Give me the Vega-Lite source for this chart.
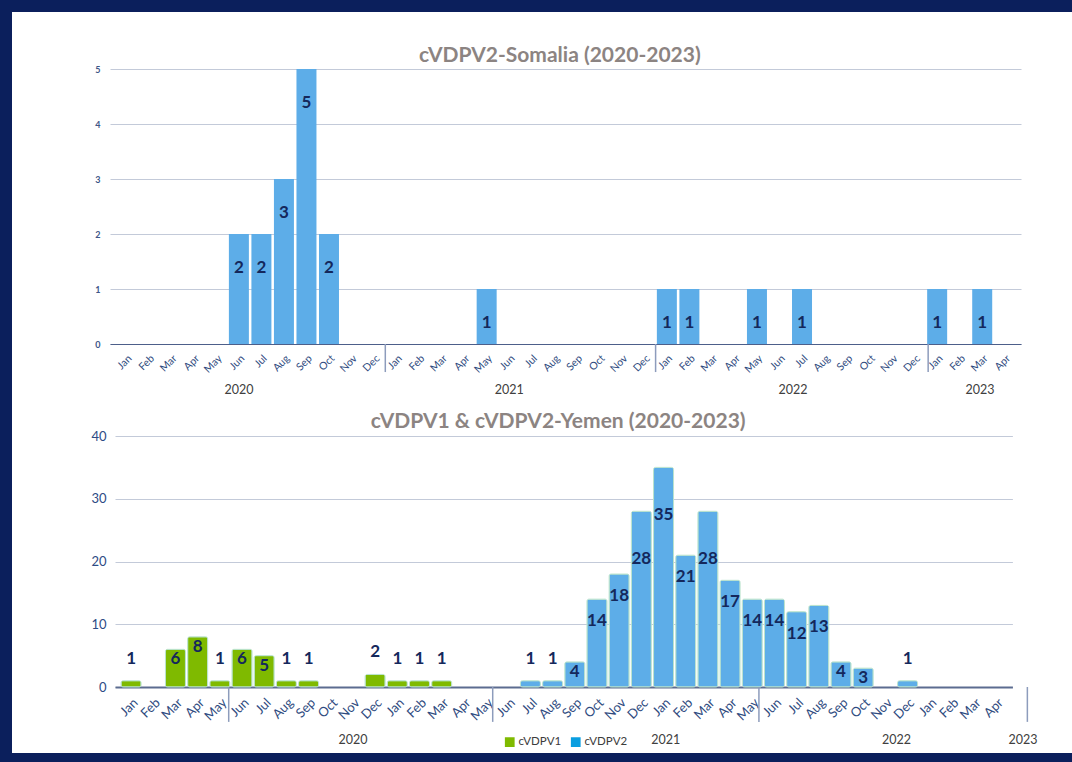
{
  "$schema": "https://vega.github.io/schema/vega-lite/v6.json",
  "width": 1072,
  "height": 762,
  "autosize": {"type": "fit", "contains": "padding"},
  "padding": {"left": 12, "top": 12, "right": 0, "bottom": 9},
  "background": "#0b1f5c",
  "config": {
    "view": {"fill": "white", "stroke": null},
    "font": "Lato",
    "axis": {"labelFont": "Lato", "titleFont": "Lato", "labelOverlap": false},
    "legend": {"labelFont": "Lato"}
  },
  "datasets": {
    "somalia": [
      {"idx": 5, "month": "Jun", "year": 2020, "cases": 2},
      {"idx": 6, "month": "Jul", "year": 2020, "cases": 2},
      {"idx": 7, "month": "Aug", "year": 2020, "cases": 3},
      {"idx": 8, "month": "Sep", "year": 2020, "cases": 5},
      {"idx": 9, "month": "Oct", "year": 2020, "cases": 2},
      {"idx": 16, "month": "May", "year": 2021, "cases": 1},
      {"idx": 24, "month": "Jan", "year": 2022, "cases": 1},
      {"idx": 25, "month": "Feb", "year": 2022, "cases": 1},
      {"idx": 28, "month": "May", "year": 2022, "cases": 1},
      {"idx": 30, "month": "Jul", "year": 2022, "cases": 1},
      {"idx": 36, "month": "Jan", "year": 2023, "cases": 1},
      {"idx": 38, "month": "Mar", "year": 2023, "cases": 1}
    ],
    "somaliaYears": [
      {"year": "2020", "at": 5.0},
      {"year": "2021", "at": 17.0},
      {"year": "2022", "at": 29.6},
      {"year": "2023", "at": 37.9}
    ],
    "somaliaSeps": [{"sep": 11.5}, {"sep": 23.5}, {"sep": 35.6}],
    "yemen": [
      {"idx": 0, "month": "Jan", "year": 2020, "type": "cVDPV1", "cases": 1},
      {"idx": 2, "month": "Mar", "year": 2020, "type": "cVDPV1", "cases": 6},
      {"idx": 3, "month": "Apr", "year": 2020, "type": "cVDPV1", "cases": 8},
      {"idx": 4, "month": "May", "year": 2020, "type": "cVDPV1", "cases": 1},
      {"idx": 5, "month": "Jun", "year": 2020, "type": "cVDPV1", "cases": 6},
      {"idx": 6, "month": "Jul", "year": 2020, "type": "cVDPV1", "cases": 5},
      {"idx": 7, "month": "Aug", "year": 2020, "type": "cVDPV1", "cases": 1},
      {"idx": 8, "month": "Sep", "year": 2020, "type": "cVDPV1", "cases": 1},
      {"idx": 11, "month": "Dec", "year": 2020, "type": "cVDPV1", "cases": 2},
      {"idx": 12, "month": "Jan", "year": 2021, "type": "cVDPV1", "cases": 1},
      {"idx": 13, "month": "Feb", "year": 2021, "type": "cVDPV1", "cases": 1},
      {"idx": 14, "month": "Mar", "year": 2021, "type": "cVDPV1", "cases": 1},
      {"idx": 18, "month": "Jul", "year": 2021, "type": "cVDPV2", "cases": 1},
      {"idx": 19, "month": "Aug", "year": 2021, "type": "cVDPV2", "cases": 1},
      {"idx": 20, "month": "Sep", "year": 2021, "type": "cVDPV2", "cases": 4},
      {"idx": 21, "month": "Oct", "year": 2021, "type": "cVDPV2", "cases": 14},
      {"idx": 22, "month": "Nov", "year": 2021, "type": "cVDPV2", "cases": 18},
      {"idx": 23, "month": "Dec", "year": 2021, "type": "cVDPV2", "cases": 28},
      {"idx": 24, "month": "Jan", "year": 2022, "type": "cVDPV2", "cases": 35},
      {"idx": 25, "month": "Feb", "year": 2022, "type": "cVDPV2", "cases": 21},
      {"idx": 26, "month": "Mar", "year": 2022, "type": "cVDPV2", "cases": 28},
      {"idx": 27, "month": "Apr", "year": 2022, "type": "cVDPV2", "cases": 17},
      {"idx": 28, "month": "May", "year": 2022, "type": "cVDPV2", "cases": 14},
      {"idx": 29, "month": "Jun", "year": 2022, "type": "cVDPV2", "cases": 14},
      {"idx": 30, "month": "Jul", "year": 2022, "type": "cVDPV2", "cases": 12},
      {"idx": 31, "month": "Aug", "year": 2022, "type": "cVDPV2", "cases": 13},
      {"idx": 32, "month": "Sep", "year": 2022, "type": "cVDPV2", "cases": 4},
      {"idx": 33, "month": "Oct", "year": 2022, "type": "cVDPV2", "cases": 3},
      {"idx": 35, "month": "Dec", "year": 2022, "type": "cVDPV2", "cases": 1}
    ],
    "yemenYears": [
      {"year": "2020", "at": 10.0},
      {"year": "2021", "at": 24.1},
      {"year": "2022", "at": 34.5},
      {"year": "2023", "at": 40.2}
    ],
    "yemenSeps": [{"sep": 4.4}, {"sep": 16.3}, {"sep": 28.3}, {"sep": 40.4}]
  },
  "layer": [
    {
      "layer": [
        {
          "data": {"name": "somalia"},
          "mark": {"type": "bar", "width": 20, "color": "#5dade8"},
          "encoding": {
            "x": {
              "field": "idx", "type": "quantitative", "title": null,
              "scale": {"domain": [-0.5, 39.5], "range": [98, 1009], "nice": false, "zero": false},
              "axis": {"orient": "bottom", "offset": -409, "title": null, "values": [0,1,2,3,4,5,6,7,8,9,10,11,12,13,14,15,16,17,18,19,20,21,22,23,24,25,26,27,28,29,30,31,32,33,34,35,36,37,38,39], "labelExpr": "['Jan','Feb','Mar','Apr','May','Jun','Jul','Aug','Sep','Oct','Nov','Dec'][datum.value % 12]", "labelAngle": -45, "labelFontSize": 10.5, "labelColor": "#2f4b80", "labelPadding": 9, "ticks": false, "grid": false, "domainColor": "#4d5f8a", "domainWidth": 1.2, "labelFlush": false, "labelOverlap": false}
            },
            "y": {
              "field": "cases", "type": "quantitative", "title": null,
              "scale": {"domain": [0, 5], "range": [332, 57], "nice": false},
              "axis": {"orient": "left", "offset": -98, "title": null, "values": [0,1,2,3,4,5], "format": "d", "domain": false, "ticks": false, "grid": true, "gridColor": "#c3cad9", "labelFontSize": 9, "labelFontWeight": "bold", "labelColor": "#3d5687", "labelPadding": 10}
            }
          }
        },
        {
          "data": {"name": "somalia"},
          "mark": {"type": "text", "dy": 34, "baseline": "middle", "fontSize": 17, "fontWeight": "bold", "color": "#14285c"},
          "encoding": {
            "x": {"field": "idx", "type": "quantitative", "title": null,
              "axis": {"orient": "bottom", "offset": -409, "title": null, "values": [0,1,2,3,4,5,6,7,8,9,10,11,12,13,14,15,16,17,18,19,20,21,22,23,24,25,26,27,28,29,30,31,32,33,34,35,36,37,38,39], "labelExpr": "['Jan','Feb','Mar','Apr','May','Jun','Jul','Aug','Sep','Oct','Nov','Dec'][datum.value % 12]", "labelAngle": -45, "labelFontSize": 10.5, "labelColor": "#2f4b80", "labelPadding": 9, "ticks": false, "grid": false, "domainColor": "#4d5f8a", "domainWidth": 1.2, "labelFlush": false, "labelOverlap": false}},
            "y": {"field": "cases", "type": "quantitative", "title": null,
              "axis": {"orient": "left", "offset": -98, "title": null, "values": [0,1,2,3,4,5], "format": "d", "domain": false, "ticks": false, "grid": true, "gridColor": "#c3cad9", "labelFontSize": 9, "labelFontWeight": "bold", "labelColor": "#3d5687", "labelPadding": 10}},
            "text": {"field": "cases", "type": "quantitative"}
          }
        },
        {
          "data": {"name": "somaliaSeps"},
          "mark": {"type": "rule", "color": "#8d9cbc", "strokeWidth": 1.5},
          "encoding": {
            "x": {"field": "sep", "type": "quantitative", "title": null,
              "axis": {"orient": "bottom", "offset": -409, "title": null, "values": [0,1,2,3,4,5,6,7,8,9,10,11,12,13,14,15,16,17,18,19,20,21,22,23,24,25,26,27,28,29,30,31,32,33,34,35,36,37,38,39], "labelExpr": "['Jan','Feb','Mar','Apr','May','Jun','Jul','Aug','Sep','Oct','Nov','Dec'][datum.value % 12]", "labelAngle": -45, "labelFontSize": 10.5, "labelColor": "#2f4b80", "labelPadding": 9, "ticks": false, "grid": false, "domainColor": "#4d5f8a", "domainWidth": 1.2, "labelFlush": false, "labelOverlap": false}},
            "y": {"datum": 0, "type": "quantitative", "title": null,
              "axis": {"orient": "left", "offset": -98, "title": null, "values": [0,1,2,3,4,5], "format": "d", "domain": false, "ticks": false, "grid": true, "gridColor": "#c3cad9", "labelFontSize": 9, "labelFontWeight": "bold", "labelColor": "#3d5687", "labelPadding": 10}},
            "y2": {"datum": -0.51}
          }
        },
        {
          "data": {"name": "somaliaYears"},
          "mark": {"type": "text", "baseline": "middle", "fontSize": 12.5, "color": "#404040"},
          "encoding": {
            "x": {"field": "at", "type": "quantitative", "title": null,
              "axis": {"orient": "bottom", "offset": -409, "title": null, "values": [0,1,2,3,4,5,6,7,8,9,10,11,12,13,14,15,16,17,18,19,20,21,22,23,24,25,26,27,28,29,30,31,32,33,34,35,36,37,38,39], "labelExpr": "['Jan','Feb','Mar','Apr','May','Jun','Jul','Aug','Sep','Oct','Nov','Dec'][datum.value % 12]", "labelAngle": -45, "labelFontSize": 10.5, "labelColor": "#2f4b80", "labelPadding": 9, "ticks": false, "grid": false, "domainColor": "#4d5f8a", "domainWidth": 1.2, "labelFlush": false, "labelOverlap": false}},
            "y": {"datum": -0.83, "type": "quantitative", "title": null,
              "axis": {"orient": "left", "offset": -98, "title": null, "values": [0,1,2,3,4,5], "format": "d", "domain": false, "ticks": false, "grid": true, "gridColor": "#c3cad9", "labelFontSize": 9, "labelFontWeight": "bold", "labelColor": "#3d5687", "labelPadding": 10}},
            "text": {"field": "year"}
          }
        },
        {
          "data": {"values": [{"title": "cVDPV2-Somalia (2020-2023)"}]},
          "mark": {"type": "text", "baseline": "middle", "fontSize": 21, "fontWeight": "bold", "color": "#8c8482"},
          "encoding": {
            "x": {"datum": 19.25, "type": "quantitative", "title": null,
              "axis": {"orient": "bottom", "offset": -409, "title": null, "values": [0,1,2,3,4,5,6,7,8,9,10,11,12,13,14,15,16,17,18,19,20,21,22,23,24,25,26,27,28,29,30,31,32,33,34,35,36,37,38,39], "labelExpr": "['Jan','Feb','Mar','Apr','May','Jun','Jul','Aug','Sep','Oct','Nov','Dec'][datum.value % 12]", "labelAngle": -45, "labelFontSize": 10.5, "labelColor": "#2f4b80", "labelPadding": 9, "ticks": false, "grid": false, "domainColor": "#4d5f8a", "domainWidth": 1.2, "labelFlush": false, "labelOverlap": false}},
            "y": {"datum": 5.24, "type": "quantitative", "title": null,
              "axis": {"orient": "left", "offset": -98, "title": null, "values": [0,1,2,3,4,5], "format": "d", "domain": false, "ticks": false, "grid": true, "gridColor": "#c3cad9", "labelFontSize": 9, "labelFontWeight": "bold", "labelColor": "#3d5687", "labelPadding": 10}},
            "text": {"field": "title"}
          }
        }
      ]
    },
    {
      "layer": [
        {
          "data": {"name": "yemen"},
          "mark": {"type": "bar", "width": 20, "stroke": "#b8e2cc", "strokeWidth": 1, "cornerRadius": 2},
          "encoding": {
            "x": {
              "field": "idx", "type": "quantitative", "title": null,
              "scale": {"domain": [-0.5, 39.5], "range": [103, 1000.4], "nice": false, "zero": false},
              "axis": {"orient": "bottom", "offset": -66, "title": null, "values": [0,1,2,3,4,5,6,7,8,9,10,11,12,13,14,15,16,17,18,19,20,21,22,23,24,25,26,27,28,29,30,31,32,33,34,35,36,37,38,39], "labelExpr": "['Jan','Feb','Mar','Apr','May','Jun','Jul','Aug','Sep','Oct','Nov','Dec'][datum.value % 12]", "labelAngle": -45, "labelFontSize": 13, "labelColor": "#2f4b80", "labelPadding": 9, "ticks": false, "grid": false, "domainColor": "#5c6c90", "domainWidth": 2, "labelFlush": false, "labelOverlap": false}
            },
            "y": {
              "field": "cases", "type": "quantitative", "title": null,
              "scale": {"domain": [0, 40], "range": [675, 424], "nice": false},
              "axis": {"orient": "left", "offset": -103, "title": null, "values": [0,10,20,30,40], "format": "d", "domain": false, "ticks": false, "grid": true, "gridColor": "#c3cad9", "labelFontSize": 13, "labelColor": "#2d4b85", "labelPadding": 9}
            },
            "color": {
              "field": "type", "type": "nominal",
              "scale": {"domain": ["cVDPV1", "cVDPV2"], "range": ["#7fba00", "#0a9ee0"]},
              "condition": {"test": "datum.type === 'cVDPV2'", "value": "#5dade8"},
              "legend": {"orient": "none", "legendX": 492, "legendY": 724, "direction": "horizontal", "title": null, "symbolType": "square", "symbolSize": 95, "symbolStrokeWidth": 0, "labelFontSize": 11.5, "labelColor": "#3c3c3c", "columnPadding": 8, "labelOffset": 3}
            }
          }
        },
        {
          "data": {"name": "yemen"},
          "transform": [{"filter": "datum.cases <= 2"}],
          "mark": {"type": "text", "dy": -22, "baseline": "middle", "fontSize": 17, "fontWeight": "bold", "color": "#14285c"},
          "encoding": {
            "x": {"field": "idx", "type": "quantitative", "title": null,
              "axis": {"orient": "bottom", "offset": -66, "title": null, "values": [0,1,2,3,4,5,6,7,8,9,10,11,12,13,14,15,16,17,18,19,20,21,22,23,24,25,26,27,28,29,30,31,32,33,34,35,36,37,38,39], "labelExpr": "['Jan','Feb','Mar','Apr','May','Jun','Jul','Aug','Sep','Oct','Nov','Dec'][datum.value % 12]", "labelAngle": -45, "labelFontSize": 13, "labelColor": "#2f4b80", "labelPadding": 9, "ticks": false, "grid": false, "domainColor": "#5c6c90", "domainWidth": 2, "labelFlush": false, "labelOverlap": false}},
            "y": {"field": "cases", "type": "quantitative", "title": null,
              "axis": {"orient": "left", "offset": -103, "title": null, "values": [0,10,20,30,40], "format": "d", "domain": false, "ticks": false, "grid": true, "gridColor": "#c3cad9", "labelFontSize": 13, "labelColor": "#2d4b85", "labelPadding": 9}},
            "text": {"field": "cases", "type": "quantitative"}
          }
        },
        {
          "data": {"name": "yemen"},
          "transform": [{"filter": "datum.cases >= 3 && datum.cases <= 9"}],
          "mark": {"type": "text", "dy": 10, "baseline": "middle", "fontSize": 17, "fontWeight": "bold", "color": "#14285c"},
          "encoding": {
            "x": {"field": "idx", "type": "quantitative", "title": null,
              "axis": {"orient": "bottom", "offset": -66, "title": null, "values": [0,1,2,3,4,5,6,7,8,9,10,11,12,13,14,15,16,17,18,19,20,21,22,23,24,25,26,27,28,29,30,31,32,33,34,35,36,37,38,39], "labelExpr": "['Jan','Feb','Mar','Apr','May','Jun','Jul','Aug','Sep','Oct','Nov','Dec'][datum.value % 12]", "labelAngle": -45, "labelFontSize": 13, "labelColor": "#2f4b80", "labelPadding": 9, "ticks": false, "grid": false, "domainColor": "#5c6c90", "domainWidth": 2, "labelFlush": false, "labelOverlap": false}},
            "y": {"field": "cases", "type": "quantitative", "title": null,
              "axis": {"orient": "left", "offset": -103, "title": null, "values": [0,10,20,30,40], "format": "d", "domain": false, "ticks": false, "grid": true, "gridColor": "#c3cad9", "labelFontSize": 13, "labelColor": "#2d4b85", "labelPadding": 9}},
            "text": {"field": "cases", "type": "quantitative"}
          }
        },
        {
          "data": {"name": "yemen"},
          "transform": [{"filter": "datum.cases >= 10 && datum.cases <= 22"}],
          "mark": {"type": "text", "dy": 22, "baseline": "middle", "fontSize": 17, "fontWeight": "bold", "color": "#14285c"},
          "encoding": {
            "x": {"field": "idx", "type": "quantitative", "title": null,
              "axis": {"orient": "bottom", "offset": -66, "title": null, "values": [0,1,2,3,4,5,6,7,8,9,10,11,12,13,14,15,16,17,18,19,20,21,22,23,24,25,26,27,28,29,30,31,32,33,34,35,36,37,38,39], "labelExpr": "['Jan','Feb','Mar','Apr','May','Jun','Jul','Aug','Sep','Oct','Nov','Dec'][datum.value % 12]", "labelAngle": -45, "labelFontSize": 13, "labelColor": "#2f4b80", "labelPadding": 9, "ticks": false, "grid": false, "domainColor": "#5c6c90", "domainWidth": 2, "labelFlush": false, "labelOverlap": false}},
            "y": {"field": "cases", "type": "quantitative", "title": null,
              "axis": {"orient": "left", "offset": -103, "title": null, "values": [0,10,20,30,40], "format": "d", "domain": false, "ticks": false, "grid": true, "gridColor": "#c3cad9", "labelFontSize": 13, "labelColor": "#2d4b85", "labelPadding": 9}},
            "text": {"field": "cases", "type": "quantitative"}
          }
        },
        {
          "data": {"name": "yemen"},
          "transform": [{"filter": "datum.cases >= 23"}],
          "mark": {"type": "text", "dy": 48, "baseline": "middle", "fontSize": 17, "fontWeight": "bold", "color": "#14285c"},
          "encoding": {
            "x": {"field": "idx", "type": "quantitative", "title": null,
              "axis": {"orient": "bottom", "offset": -66, "title": null, "values": [0,1,2,3,4,5,6,7,8,9,10,11,12,13,14,15,16,17,18,19,20,21,22,23,24,25,26,27,28,29,30,31,32,33,34,35,36,37,38,39], "labelExpr": "['Jan','Feb','Mar','Apr','May','Jun','Jul','Aug','Sep','Oct','Nov','Dec'][datum.value % 12]", "labelAngle": -45, "labelFontSize": 13, "labelColor": "#2f4b80", "labelPadding": 9, "ticks": false, "grid": false, "domainColor": "#5c6c90", "domainWidth": 2, "labelFlush": false, "labelOverlap": false}},
            "y": {"field": "cases", "type": "quantitative", "title": null,
              "axis": {"orient": "left", "offset": -103, "title": null, "values": [0,10,20,30,40], "format": "d", "domain": false, "ticks": false, "grid": true, "gridColor": "#c3cad9", "labelFontSize": 13, "labelColor": "#2d4b85", "labelPadding": 9}},
            "text": {"field": "cases", "type": "quantitative"}
          }
        },
        {
          "data": {"name": "yemenSeps"},
          "mark": {"type": "rule", "color": "#8d9cbc", "strokeWidth": 1.5},
          "encoding": {
            "x": {"field": "sep", "type": "quantitative", "title": null,
              "axis": {"orient": "bottom", "offset": -66, "title": null, "values": [0,1,2,3,4,5,6,7,8,9,10,11,12,13,14,15,16,17,18,19,20,21,22,23,24,25,26,27,28,29,30,31,32,33,34,35,36,37,38,39], "labelExpr": "['Jan','Feb','Mar','Apr','May','Jun','Jul','Aug','Sep','Oct','Nov','Dec'][datum.value % 12]", "labelAngle": -45, "labelFontSize": 13, "labelColor": "#2f4b80", "labelPadding": 9, "ticks": false, "grid": false, "domainColor": "#5c6c90", "domainWidth": 2, "labelFlush": false, "labelOverlap": false}},
            "y": {"datum": 0, "type": "quantitative", "title": null,
              "axis": {"orient": "left", "offset": -103, "title": null, "values": [0,10,20,30,40], "format": "d", "domain": false, "ticks": false, "grid": true, "gridColor": "#c3cad9", "labelFontSize": 13, "labelColor": "#2d4b85", "labelPadding": 9}},
            "y2": {"datum": -5.56}
          }
        },
        {
          "data": {"name": "yemenYears"},
          "mark": {"type": "text", "baseline": "middle", "fontSize": 12.5, "color": "#404040"},
          "encoding": {
            "x": {"field": "at", "type": "quantitative", "title": null,
              "axis": {"orient": "bottom", "offset": -66, "title": null, "values": [0,1,2,3,4,5,6,7,8,9,10,11,12,13,14,15,16,17,18,19,20,21,22,23,24,25,26,27,28,29,30,31,32,33,34,35,36,37,38,39], "labelExpr": "['Jan','Feb','Mar','Apr','May','Jun','Jul','Aug','Sep','Oct','Nov','Dec'][datum.value % 12]", "labelAngle": -45, "labelFontSize": 13, "labelColor": "#2f4b80", "labelPadding": 9, "ticks": false, "grid": false, "domainColor": "#5c6c90", "domainWidth": 2, "labelFlush": false, "labelOverlap": false}},
            "y": {"datum": -8.5, "type": "quantitative", "title": null,
              "axis": {"orient": "left", "offset": -103, "title": null, "values": [0,10,20,30,40], "format": "d", "domain": false, "ticks": false, "grid": true, "gridColor": "#c3cad9", "labelFontSize": 13, "labelColor": "#2d4b85", "labelPadding": 9}},
            "text": {"field": "year"}
          }
        },
        {
          "data": {"values": [{"title": "cVDPV1 & cVDPV2-Yemen (2020-2023)"}]},
          "mark": {"type": "text", "baseline": "middle", "fontSize": 21, "fontWeight": "bold", "color": "#8c8482"},
          "encoding": {
            "x": {"datum": 19.25, "type": "quantitative", "title": null,
              "axis": {"orient": "bottom", "offset": -66, "title": null, "values": [0,1,2,3,4,5,6,7,8,9,10,11,12,13,14,15,16,17,18,19,20,21,22,23,24,25,26,27,28,29,30,31,32,33,34,35,36,37,38,39], "labelExpr": "['Jan','Feb','Mar','Apr','May','Jun','Jul','Aug','Sep','Oct','Nov','Dec'][datum.value % 12]", "labelAngle": -45, "labelFontSize": 13, "labelColor": "#2f4b80", "labelPadding": 9, "ticks": false, "grid": false, "domainColor": "#5c6c90", "domainWidth": 2, "labelFlush": false, "labelOverlap": false}},
            "y": {"datum": 42.2, "type": "quantitative", "title": null,
              "axis": {"orient": "left", "offset": -103, "title": null, "values": [0,10,20,30,40], "format": "d", "domain": false, "ticks": false, "grid": true, "gridColor": "#c3cad9", "labelFontSize": 13, "labelColor": "#2d4b85", "labelPadding": 9}},
            "text": {"field": "title"}
          }
        }
      ]
    }
  ],
  "resolve": {
    "scale": {"x": "independent", "y": "independent"},
    "axis": {"x": "independent", "y": "independent"}
  }
}
